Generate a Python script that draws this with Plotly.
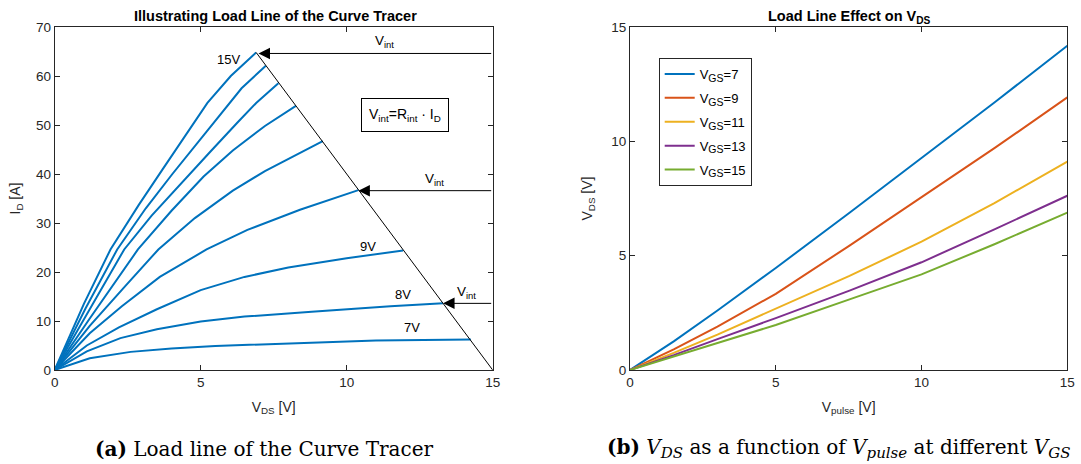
import plotly.graph_objects as go

# ---------------- Left chart data: I_D vs V_DS for each V_GS ----------------
vgs_labels = ["7V", "8V", "9V", "10V", "11V", "12V", "13V", "14V", "15V"]
vds_7 = [0, 1.2, 2.6, 4.0, 5.5, 7.0, 8.8, 11.0, 14.25]
id_7 = [0, 2.4, 3.7, 4.4, 4.9, 5.2, 5.6, 6.0, 6.2]
vds_8 = [0, 1.1, 2.25, 3.5, 5.0, 6.5, 8.8, 10.0, 11.5, 13.3]
id_8 = [0, 3.8, 6.5, 8.3, 9.9, 10.9, 11.9, 12.4, 13.0, 13.6]
vds_9 = [0, 1.1, 2.2, 3.5, 5.0, 6.5, 8.0, 10.0, 11.93]
id_9 = [0, 5.0, 8.7, 12.4, 16.3, 19.0, 20.9, 22.8, 24.4]
vds_10 = [0, 1.2, 2.3, 3.6, 5.2, 6.6, 8.4, 10.4]
id_10 = [0, 7.5, 13.0, 19.0, 24.6, 28.6, 32.7, 36.7]
vds_11 = [0, 1.2, 2.4, 3.55, 4.8, 6.1, 7.2, 8.3, 9.18]
id_11 = [0, 9.0, 17.0, 24.6, 31.0, 36.6, 40.6, 44.0, 46.7]
vds_12 = [0, 1.2, 2.85, 4.0, 5.1, 6.1, 7.2, 8.26]
id_12 = [0, 10.5, 24.6, 32.5, 39.5, 44.8, 49.8, 53.9]
vds_13 = [0, 1.1, 2.38, 3.32, 4.38, 5.32, 6.26, 6.9, 7.66]
id_13 = [0, 11.5, 24.6, 31.5, 38.5, 44.5, 50.5, 54.5, 58.5]
vds_14 = [0, 1.05, 2.14, 3.12, 4.03, 4.97, 5.8, 6.4, 7.23]
id_14 = [0, 12.5, 24.6, 33.0, 40.0, 47.0, 53.0, 57.5, 62.1]
vds_15 = [0, 1.0, 1.91, 2.88, 3.7, 4.45, 5.23, 6.03, 6.9]
id_15 = [0, 13.5, 24.6, 33.7, 41.0, 47.5, 54.5, 60.0, 64.8]

# load line end points
load_v = [6.9, 15.0]
load_i = [64.8, 0.0]

# V_int arrows: (tip V, I level)
arrow_tip_v = [6.98, 10.4, 13.3]
arrow_i = [64.6, 36.6, 13.6]

# ---------------- Right chart data: V_DS vs V_pulse ----------------
vpulse = [0, 1.5, 3.0, 5.0, 7.53, 10.0, 12.5, 15.0]
vds_gs7 = [0, 1.25, 2.6, 4.46, 6.88, 9.26, 11.7, 14.18]
vds_gs9 = [0, 0.9, 1.9, 3.33, 5.44, 7.55, 9.7, 11.92]
vds_gs11 = [0, 0.75, 1.55, 2.7, 4.12, 5.61, 7.3, 9.11]
vds_gs13 = [0, 0.65, 1.35, 2.27, 3.47, 4.71, 6.15, 7.62]
vds_gs15 = [0, 0.6, 1.2, 1.97, 3.09, 4.18, 5.5, 6.88]
gs_values = ["7", "9", "11", "13", "15"]
colors = ["#0072BD", "#D95319", "#EDB120", "#7E2F8E", "#77AC30"]

W, H = 1081, 464
FONT = "Liberation Sans, Arial, sans-serif"
SERIF = "DejaVu Serif, Liberation Serif, serif"
AX = "#262626"

fig = go.Figure()

left_sets = [(vds_7, id_7), (vds_8, id_8), (vds_9, id_9), (vds_10, id_10),
             (vds_11, id_11), (vds_12, id_12), (vds_13, id_13), (vds_14, id_14),
             (vds_15, id_15)]
for (vx, iy), lab in zip(left_sets, vgs_labels):
    fig.add_trace(go.Scatter(x=vx, y=iy, mode="lines", name=lab,
                             line=dict(color="#0072BD", width=2),
                             showlegend=False, xaxis="x", yaxis="y"))
fig.add_trace(go.Scatter(x=load_v, y=load_i, mode="lines",
                         line=dict(color="black", width=1),
                         showlegend=False, xaxis="x", yaxis="y"))

right_sets = [vds_gs7, vds_gs9, vds_gs11, vds_gs13, vds_gs15]
for k, (ys, g, c) in enumerate(zip(right_sets, gs_values, colors)):
    nm = 'V<sub><span style="font-size:10.5px">GS</span></sub>=' + g
    fig.add_trace(go.Scatter(x=vpulse, y=ys, mode="lines", name=nm,
                             legendgroup="g%d" % k,
                             line=dict(color=c, width=2),
                             xaxis="x2", yaxis="y2"))

def px(xp):
    return xp / W

def py(yp):
    return 1 - yp / H

axis_common = dict(showline=True, linecolor=AX, linewidth=1, mirror="ticks",
                   ticks="inside", ticklen=5, tickcolor=AX, showgrid=False,
                   zeroline=False, tickfont=dict(family=FONT, size=13.5, color=AX))
title_font = dict(family=FONT, size=14, color=AX)

fig.update_layout(
    width=W, height=H, margin=dict(l=0, r=0, t=0, b=0, autoexpand=False),
    paper_bgcolor="white", plot_bgcolor="white",
    font=dict(family=FONT, size=12, color=AX),
    xaxis=dict(domain=[px(54.7), px(492.7)], range=[0, 15], dtick=5,
               title=dict(text="V<sub>DS</sub> [V]", font=title_font, standoff=12),
               anchor="y", **axis_common),
    yaxis=dict(domain=[py(370), py(27)], range=[0, 70], dtick=10,
               title=dict(text="I<sub>D</sub> [A]", font=title_font, standoff=12),
               anchor="x", **axis_common),
    xaxis2=dict(domain=[px(630), px(1067.3)], range=[0, 15], dtick=5,
                title=dict(text="V<sub>pulse</sub> [V]", font=title_font, standoff=12),
                anchor="y2", **axis_common),
    yaxis2=dict(domain=[py(370), py(27)], range=[0, 15], dtick=5,
                title=dict(text="V<sub>DS</sub> [V]", font=title_font, standoff=15),
                anchor="x2", **axis_common),
    legend=dict(x=px(658.7), y=py(58), xanchor="left", yanchor="top",
                bordercolor=AX, borderwidth=1, bgcolor="white",
                font=dict(family=FONT, size=13, color="black"),
                tracegroupgap=4),
)

def note(**kw):
    d = dict(xanchor="center", yanchor="middle", showarrow=False)
    d.update(kw)
    return d

ann = []
# titles
ann.append(note(text="<b>Illustrating Load Line of the Curve Tracer</b>", xref="paper", yref="paper",
                x=px(275), y=py(16), font=dict(family=FONT, size=14.5, color="black")))
ann.append(note(text="<b>Load Line Effect on V<sub>DS</sub></b>", xref="paper", yref="paper",
                x=px(849), y=py(17), font=dict(family=FONT, size=14.5, color="black")))
# curve labels
label_pos = {"15V": (5.95, 63.3), "9V": (10.72, 25.2), "8V": (11.94, 15.5), "7V": (12.25, 8.6)}
for t, (lx, ly) in label_pos.items():
    ann.append(note(text=t, x=lx, y=ly, xref="x", yref="y",
                    font=dict(family=FONT, size=13, color="black")))
# arrows
for tv, iv in zip(arrow_tip_v, arrow_i):
    ann.append(dict(text="", x=tv, y=iv, ax=15, ay=iv, xref="x", yref="y",
                    axref="x", ayref="y", showarrow=True, arrowhead=2,
                    arrowsize=2.3, arrowwidth=1, arrowcolor="black"))
vint_pos = [(11.28, 67.0), (13.0, 38.8), (14.1, 15.8)]
for lx, ly in vint_pos:
    ann.append(note(text="V<sub>int</sub>", x=lx, y=ly, xref="x", yref="y",
                    font=dict(family=FONT, size=13.5, color="black")))
# equation box
ann.append(note(text="V<sub>int</sub>=R<sub>int</sub> · I<sub>D</sub>", x=12.0, y=52.0,
                xref="x", yref="y", bordercolor="black", borderwidth=1,
                borderpad=7, bgcolor="white", font=dict(family=FONT, size=14, color="black")))
# captions
ann.append(note(text="<b>(a)</b> Load line of the Curve Tracer", xref="paper", yref="paper",
                x=px(264.5), y=py(449), font=dict(family=SERIF, size=20, color="black")))
sub = '<sub><span style="font-size:15px"><i>%s</i></span></sub>'
cap_b = ("<b>(b)</b> <i>V</i>" + sub % "DS" + " as a function of <i>V</i>" + sub % "pulse"
         + " at different <i>V</i>" + sub % "GS")
ann.append(note(text=cap_b, xref="paper", yref="paper", x=px(838.5), y=py(448),
                font=dict(family=SERIF, size=20, color="black")))
fig.update_layout(annotations=ann)

fig.write_html("out.html", config={"displayModeBar": False},
               post_script="document.body.style.margin='0';document.body.style.overflow='hidden';")
